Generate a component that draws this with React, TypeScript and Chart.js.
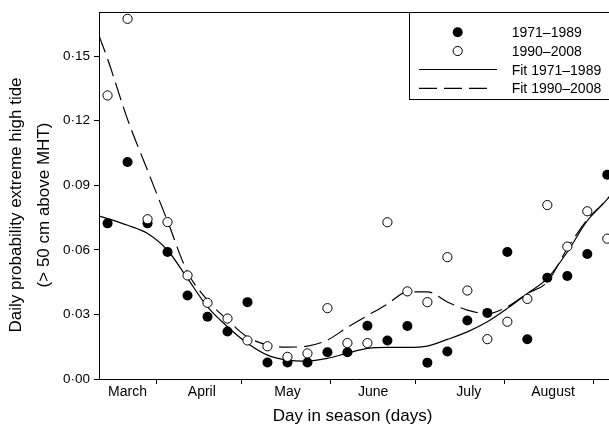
import { useEffect, useRef } from 'react';
import { Chart, registerables } from 'chart.js';
Chart.register(...registerables);

const FONT = '"Liberation Sans", Arial, Helvetica, sans-serif';

// Weekly observation days (day of year)
const weekDays = [74, 81, 88, 95, 102, 109, 116, 123, 130, 137, 144, 151, 158, 165, 172, 179, 186, 193, 200, 207, 214, 221, 228, 235, 242, 249];
const obs1971 = [0.0723, 0.1008, 0.0723, 0.059, 0.0388, 0.0289, 0.0221, 0.0357, 0.0077, 0.0077, 0.0077, 0.0124, 0.0124, 0.0247, 0.0179, 0.0246, 0.0076, 0.0128, 0.0272, 0.0307, 0.059, 0.0185, 0.047, 0.0478, 0.0581, 0.0949];
const obs1990 = [0.1317, 0.1673, 0.0742, 0.0729, 0.0481, 0.0354, 0.0281, 0.0179, 0.0152, 0.0103, 0.0119, 0.0329, 0.0167, 0.0167, 0.0728, 0.0407, 0.0357, 0.0566, 0.0411, 0.0185, 0.0266, 0.0372, 0.0808, 0.0615, 0.0779, 0.0652];

// Fitted curves
const fitDays = [71, 74, 81, 88, 95, 102, 109, 116, 123, 130, 137, 144, 151, 158, 165, 172, 179, 186, 193, 200, 207, 214, 221, 228, 235, 242, 249, 251];
const fit1971 = [0.0757, 0.0745, 0.0714, 0.0676, 0.0598, 0.0467, 0.0335, 0.0243, 0.0166, 0.0111, 0.0088, 0.0083, 0.0096, 0.012, 0.0142, 0.0147, 0.0147, 0.0153, 0.0184, 0.0219, 0.0266, 0.0328, 0.0397, 0.0467, 0.059, 0.0735, 0.0835, 0.087];
const fit1990 = [0.1595, 0.1487, 0.1206, 0.0969, 0.0733, 0.0496, 0.0366, 0.0274, 0.0195, 0.0158, 0.0148, 0.0153, 0.0181, 0.024, 0.0294, 0.0348, 0.0405, 0.0405, 0.0358, 0.032, 0.0303, 0.0335, 0.0397, 0.0451, 0.0606, 0.074, 0.0835, 0.087];

// Axes
const yTicks = [0, 0.03, 0.06, 0.09, 0.12, 0.15];
const monthBoundaries = [91, 121, 152, 182, 213, 244];
const monthNames = ['March', 'April', 'May', 'June', 'July', 'August'];
const monthLabelDays = [81, 107, 137, 167, 200.5, 230];

const seriesLabels = ['1971\u20131989', '1990\u20132008', 'Fit 1971\u20131989', 'Fit 1990\u20132008'];
const yTitle = ['Daily probability extreme high tide', '(> 50 cm above MHT)'];
const xTitle = 'Day in season (days)';

const decor = {
  id: 'decor',
  afterDraw(chart: any) {
    const { ctx, chartArea } = chart;
    const { left, top, right } = chartArea;
    ctx.save();
    ctx.strokeStyle = '#000';
    ctx.lineWidth = 1;
    // top frame
    ctx.beginPath();
    ctx.moveTo(left, top - 0.5);
    ctx.lineTo(right + 30, top - 0.5);
    ctx.stroke();

    // legend box
    ctx.fillStyle = '#fff';
    ctx.fillRect(409.5, top - 0.5, 300, 87);
    ctx.strokeRect(409.5, top - 0.5, 300, 87);

    const rows = [32.3, 51, 69.5, 88.3];
    // filled marker
    ctx.fillStyle = '#000';
    ctx.beginPath();
    ctx.arc(457.7, rows[0], 5, 0, Math.PI * 2);
    ctx.fill();
    // open marker
    ctx.fillStyle = '#fff';
    ctx.beginPath();
    ctx.arc(457.7, rows[1], 4.6, 0, Math.PI * 2);
    ctx.fill();
    ctx.stroke();
    // solid line
    ctx.lineWidth = 1.2;
    ctx.beginPath();
    ctx.moveTo(419, rows[2]);
    ctx.lineTo(497, rows[2]);
    ctx.stroke();
    // dashed line
    ctx.setLineDash([18, 7]);
    ctx.beginPath();
    ctx.moveTo(419, rows[3]);
    ctx.lineTo(490, rows[3]);
    ctx.stroke();
    ctx.setLineDash([]);

    ctx.fillStyle = '#000';
    ctx.font = `14px ${FONT}`;
    ctx.textAlign = 'left';
    ctx.textBaseline = 'alphabetic';
    seriesLabels.forEach((t, i) => ctx.fillText(t, 511.7, rows[i] + 5));

    // axis titles
    ctx.font = `17px ${FONT}`;
    ctx.textAlign = 'center';
    ctx.fillText(xTitle, 352.5, 420.5);
    ctx.save();
    ctx.translate(0, 205);
    ctx.rotate(-Math.PI / 2);
    ctx.fillText(yTitle[0], 0, 20.7);
    ctx.fillText(yTitle[1], 0, 48.5);
    ctx.restore();
    ctx.restore();
  },
};

export default function App() {
  const ref = useRef<HTMLCanvasElement | null>(null);
  useEffect(() => {
    if (!ref.current) return;
    const xTickValues = [...monthBoundaries, ...monthLabelDays].sort((a, b) => a - b);
    const chart = new Chart(ref.current, {
      type: 'scatter',
      data: {
        datasets: [
          {
            label: seriesLabels[1],
            data: weekDays.map((d, i) => ({ x: d, y: obs1990[i] })),
            pointRadius: 4.6,
            pointBackgroundColor: '#fff',
            pointBorderColor: '#000',
            pointBorderWidth: 1,
            showLine: false,
          },
          {
            label: seriesLabels[0],
            data: weekDays.map((d, i) => ({ x: d, y: obs1971[i] })),
            pointRadius: 5,
            pointBackgroundColor: '#000',
            pointBorderColor: '#000',
            pointBorderWidth: 0,
            showLine: false,
          },
          {
            label: seriesLabels[2],
            data: fitDays.map((d, i) => ({ x: d, y: fit1971[i] })),
            showLine: true,
            pointRadius: 0,
            borderColor: '#000',
            borderWidth: 1.2,
            cubicInterpolationMode: 'monotone',
          },
          {
            label: seriesLabels[3],
            data: fitDays.map((d, i) => ({ x: d, y: fit1990[i] })),
            showLine: true,
            pointRadius: 0,
            borderColor: '#000',
            borderWidth: 1.2,
            borderDash: [18, 7],
            cubicInterpolationMode: 'monotone',
          },
        ],
      } as any,
      options: {
        animation: false,
        responsive: false,
        maintainAspectRatio: false,
        layout: { padding: { top: 13, right: 27, left: 0, bottom: 0 } },
        plugins: { legend: { display: false }, tooltip: { enabled: false } },
        scales: {
          x: {
            type: 'linear',
            min: 71,
            max: 251,
            afterBuildTicks: (s: any) => {
              s.ticks = xTickValues.map((v) => ({ value: v }));
            },
            afterFit: (s: any) => {
              s.height = 46;
            },
            grid: {
              drawOnChartArea: false,
              drawTicks: true,
              tickLength: 5,
              tickWidth: 1,
              tickColor: (c: any) =>
                c.tick && monthBoundaries.includes(c.tick.value) ? '#000' : 'rgba(0,0,0,0)',
            },
            border: { display: true, color: '#000', width: 1 },
            ticks: {
              autoSkip: false,
              maxRotation: 0,
              minRotation: 0,
              padding: 0,
              color: '#000',
              font: { family: FONT, size: 14 },
              callback: (v: any) => {
                const i = monthLabelDays.indexOf(Number(v));
                return i >= 0 ? monthNames[i] : '';
              },
            },
          },
          y: {
            type: 'linear',
            min: 0,
            max: 0.17,
            afterBuildTicks: (s: any) => {
              s.ticks = yTicks.map((v) => ({ value: v }));
            },
            afterFit: (s: any) => {
              s.width = 99;
            },
            grid: { drawOnChartArea: false, drawTicks: true, tickLength: 5, tickColor: '#000' },
            border: { display: true, color: '#000', width: 1 },
            ticks: {
              padding: 4,
              color: '#000',
              font: { family: FONT, size: 13.5 },
              callback: (v: any) => Number(v).toFixed(2).replace('.', '\u00B7'),
            },
          },
        },
      } as any,
      plugins: [decor],
    });
    return () => chart.destroy();
  }, []);

  return (
    <div style={{ position: 'fixed', left: 0, top: 0, width: 609, height: 425, overflow: 'hidden', background: '#fff' }}>
      <canvas ref={ref} width={640} height={425} style={{ display: 'block', width: 640, height: 425 }} />
    </div>
  );
}
